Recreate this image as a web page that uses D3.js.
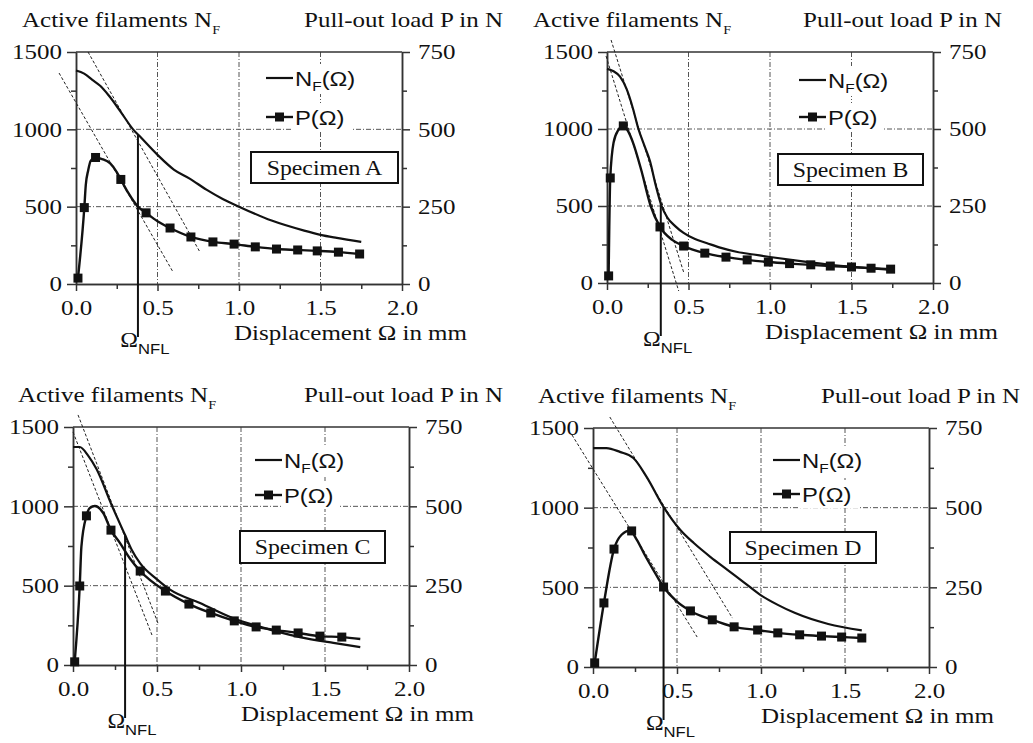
<!DOCTYPE html>
<html>
<head>
<meta charset="utf-8">
<script src="https://cdn.jsdelivr.net/npm/d3@7"></script>
<style>
  body { margin: 0; background: #fff; }
  text { font-family: "Liberation Serif", "Times New Roman", serif; fill: #111; }
  text.sans { font-family: "Liberation Sans", Arial, sans-serif; }
</style>
</head>
<body>
<svg id="chart" width="1033" height="743"></svg>
<script>
// ---- tick values shared by all four panels
const xTicks = [0, 0.5, 1.0, 1.5, 2.0];
const xMinor = [0.25, 0.75, 1.25, 1.75];
const xGrid = [0.5, 1.0, 1.5];
const leftTicks = [0, 500, 1000, 1500];
const leftMinor = [250, 750, 1250];
const leftGrid = [500, 1000];
const rightTicks = [0, 250, 500, 750];
const rightMinor = [125, 375, 625];

// ---- Specimen A  (displacement mm, N_F) / (displacement mm, P in N)
const nfA = [[0, 1380], [0.05, 1360], [0.1, 1320], [0.15, 1280], [0.2, 1220], [0.27, 1120], [0.35, 1000],
  [0.4, 945], [0.5, 835], [0.6, 740], [0.7, 680], [0.8, 610], [0.9, 550], [1.0, 500], [1.2, 410],
  [1.4, 345], [1.5, 318], [1.6, 298], [1.75, 272]];
const pLineA = [[0.012, 19], [0.051, 247], [0.06, 320], [0.075, 368], [0.09, 398], [0.12, 409], [0.16, 404],
  [0.21, 390], [0.25, 362], [0.275, 338], [0.32, 295], [0.38, 250], [0.43, 230], [0.5, 203], [0.577, 181],
  [0.705, 152], [0.84, 136], [0.97, 129], [1.10, 120], [1.23, 113], [1.36, 110], [1.48, 107], [1.61, 103], [1.74, 97]];
const pMarkA = [[0.012, 19], [0.051, 247], [0.12, 409], [0.275, 338], [0.43, 230], [0.577, 181], [0.705, 152],
  [0.84, 136], [0.97, 129], [1.10, 120], [1.23, 113], [1.36, 110], [1.48, 107], [1.61, 103], [1.74, 97]];
const tanA = [[[0.074, 1500], [0.76, 207]], [[-0.104, 1364], [0.595, 78]]];
const nflA = [0.38, 965];

// ---- Specimen B
const nfB = [[0, 1390], [0.04, 1375], [0.08, 1340], [0.12, 1260], [0.16, 1130], [0.19, 1010], [0.23, 890],
  [0.264, 790], [0.3, 630], [0.335, 500], [0.37, 425], [0.42, 368], [0.47, 325], [0.54, 285], [0.61, 260],
  [0.7, 228], [0.8, 201], [0.9, 185], [1.0, 169], [1.2, 140], [1.4, 115], [1.6, 97], [1.75, 85]];
const pLineB = [[0.01, 23], [0.02, 341], [0.04, 455], [0.07, 497], [0.1, 510], [0.13, 492], [0.16, 455],
  [0.21, 367], [0.268, 250], [0.325, 182], [0.4, 140], [0.47, 120], [0.6, 97], [0.73, 84], [0.86, 75],
  [0.99, 68], [1.12, 63], [1.25, 59], [1.37, 55], [1.5, 52], [1.62, 48], [1.74, 45]];
const pMarkB = [[0.01, 23], [0.02, 341], [0.1, 510], [0.325, 182], [0.47, 120], [0.6, 97], [0.73, 84],
  [0.86, 75], [0.99, 68], [1.12, 63], [1.25, 59], [1.37, 55], [1.5, 52], [1.62, 48], [1.74, 45]];
const tanB = [[[0.025, 1578], [0.47, 71]], [[-0.006, 1474], [0.44, -52]]];
const nflB = [0.33, 515];

// ---- Specimen C
const nfC = [[0, 1374], [0.04, 1374], [0.09, 1320], [0.14, 1235], [0.23, 1008], [0.31, 819], [0.35, 725],
  [0.4, 640], [0.5, 540], [0.58, 473], [0.756, 391], [0.95, 296], [1.1, 245], [1.35, 176], [1.55, 139], [1.71, 113]];
const pLineC = [[0.01, 10], [0.04, 249], [0.05, 373], [0.08, 470], [0.1, 495], [0.13, 501], [0.18, 479],
  [0.226, 425], [0.28, 384], [0.34, 335], [0.4, 296], [0.55, 233], [0.69, 192], [0.82, 164], [0.96, 139],
  [1.09, 120], [1.21, 110], [1.34, 101], [1.47, 91], [1.6, 88], [1.71, 82]];
const pMarkC = [[0.01, 10], [0.04, 249], [0.08, 470], [0.226, 425], [0.4, 296], [0.55, 233], [0.69, 192],
  [0.82, 164], [0.96, 139], [1.09, 120], [1.21, 110], [1.34, 101], [1.47, 91], [1.6, 88]];
const tanC = [[[0.03, 1576], [0.51, 252]], [[0, 1469], [0.47, 189]]];
const nflC = [0.31, 819];

// ---- Specimen D
const nfD = [[0, 1374], [0.08, 1374], [0.16, 1350], [0.24, 1312], [0.32, 1192], [0.42, 1004], [0.52, 860],
  [0.6, 778], [0.7, 690], [0.8, 610], [0.9, 530], [1.0, 450], [1.1, 390], [1.2, 340], [1.4, 270], [1.6, 230]];
const pLineD = [[0.01, 13], [0.065, 201], [0.125, 370], [0.17, 415], [0.22, 428], [0.26, 400], [0.31, 350],
  [0.36, 304], [0.42, 251], [0.5, 205], [0.58, 176], [0.71, 148], [0.84, 126], [0.98, 116], [1.10, 107],
  [1.23, 101], [1.36, 97], [1.48, 94], [1.6, 91]];
const pMarkD = [[0.01, 13], [0.065, 201], [0.125, 370], [0.23, 427], [0.42, 251], [0.58, 176], [0.71, 148],
  [0.84, 126], [0.98, 116], [1.10, 107], [1.23, 101], [1.36, 97], [1.48, 94], [1.6, 91]];
const tanD = [[[0.10, 1569], [0.83, 307]], [[-0.125, 1456], [0.62, 188]]];
const nflD = [0.42, 1004];

// layout of each panel (pixels): frame box, title anchors, legend and label box offsets
const panels = [
  { name: 'Specimen A', nf: nfA, pLine: pLineA, pMark: pMarkA, tan: tanA, nfl: nflA,
    left: 76, top: 52, width: 326, height: 232, titleL: 22, titleR: 503,
    legX: 190, legY: [26, 65], box: [175, 100, 147, 31] },
  { name: 'Specimen B', nf: nfB, pLine: pLineB, pMark: pMarkB, tan: tanB, nfl: nflB,
    left: 607, top: 52, width: 326, height: 231, titleL: 533, titleR: 1002,
    legX: 192, legY: [28, 65], box: [171, 102, 145, 31] },
  { name: 'Specimen C', nf: nfC, pLine: pLineC, pMark: pMarkC, tan: tanC, nfl: nflC,
    left: 73, top: 427, width: 336, height: 238, titleL: 18, titleR: 503,
    legX: 182, legY: [33, 68], box: [167, 104, 145, 32] },
  { name: 'Specimen D', nf: nfD, pLine: pLineD, pMark: pMarkD, tan: tanD, nfl: nflD,
    left: 593, top: 428, width: 336, height: 239, titleL: 538, titleR: 1020,
    legX: 180, legY: [32, 66], box: [137, 104, 146, 31] }
];

// the source figure is stretched horizontally, so all text is widened a bit
const SX = 1.19;

const svg = d3.select('#chart');

function label(g, x, y, anchor, size, cls) {
  return g.append('text')
    .attr('transform', `translate(${x},${y}) scale(${SX},1)`)
    .attr('text-anchor', anchor)
    .attr('class', cls || null)
    .style('font-size', size + 'px');
}

function drawPanel(p) {
  const bottom = p.top + p.height, right = p.left + p.width;
  const x = d3.scaleLinear().domain([0, 2]).range([p.left, right]);
  const yL = d3.scaleLinear().domain([0, 1500]).range([bottom, p.top]);
  const yR = d3.scaleLinear().domain([0, 750]).range([bottom, p.top]);
  const g = svg.append('g');

  // grid
  g.selectAll('.gx').data(xGrid).join('line')
    .attr('x1', d => x(d)).attr('x2', d => x(d)).attr('y1', p.top).attr('y2', bottom)
    .attr('stroke', '#555').attr('stroke-width', 1).attr('stroke-dasharray', '5,2,1,2');
  g.selectAll('.gy').data(leftGrid).join('line')
    .attr('x1', p.left).attr('x2', right).attr('y1', d => yL(d)).attr('y2', d => yL(d))
    .attr('stroke', '#555').attr('stroke-width', 1).attr('stroke-dasharray', '5,2,1,2');

  // top frame line
  g.append('line').attr('x1', x(0)).attr('x2', x(2)).attr('y1', yL(1500)).attr('y2', yL(1500))
    .attr('stroke', '#333').attr('stroke-width', 1.5);

  // axes
  const styleAxis = sel => {
    sel.select('.domain').attr('stroke', '#333').attr('stroke-width', 1.5);
    sel.selectAll('.tick line').attr('stroke', '#333').attr('stroke-width', 1.5);
    sel.selectAll('text').style('font-size', '21px').attr('fill', '#111')
      .style('font-family', '"Liberation Serif", serif')
      .attr('transform', `scale(${SX},1)`);
  };
  g.append('g').attr('transform', `translate(0,${bottom})`)
    .call(d3.axisBottom(x).tickValues(xMinor).tickSize(5).tickSizeOuter(0).tickFormat(''))
    .call(styleAxis);
  g.append('g').attr('transform', `translate(0,${bottom})`)
    .call(d3.axisBottom(x).tickValues(xTicks).tickSize(7).tickSizeOuter(0).tickFormat(d3.format('.1f')))
    .call(styleAxis)
    .call(a => a.selectAll('text').attr('y', 31).attr('dy', 0));
  g.append('g').attr('transform', `translate(${p.left},0)`)
    .call(d3.axisLeft(yL).tickValues(leftMinor).tickSize(5).tickSizeOuter(0).tickFormat(''))
    .call(styleAxis);
  g.append('g').attr('transform', `translate(${p.left},0)`)
    .call(d3.axisLeft(yL).tickValues(leftTicks).tickSize(9).tickSizeOuter(0).tickFormat(d3.format('d')))
    .call(styleAxis)
    .call(a => a.selectAll('text').attr('x', -14 / SX));
  g.append('g').attr('transform', `translate(${right},0)`)
    .call(d3.axisRight(yR).tickValues(rightMinor).tickSize(5).tickSizeOuter(0).tickFormat(''))
    .call(styleAxis);
  g.append('g').attr('transform', `translate(${right},0)`)
    .call(d3.axisRight(yR).tickValues(rightTicks).tickSize(8).tickSizeOuter(0).tickFormat(d3.format('d')))
    .call(styleAxis)
    .call(a => a.selectAll('text').attr('x', 16 / SX));

  // tangent lines
  g.selectAll('.tan').data(p.tan).join('line')
    .attr('x1', d => x(d[0][0])).attr('y1', d => yL(d[0][1]))
    .attr('x2', d => x(d[1][0])).attr('y2', d => yL(d[1][1]))
    .attr('stroke', '#222').attr('stroke-width', 1).attr('stroke-dasharray', '3,2');

  // curves
  const nfLine = d3.line().x(d => x(d[0])).y(d => yL(d[1])).curve(d3.curveMonotoneX);
  const pLine = d3.line().x(d => x(d[0])).y(d => yR(d[1])).curve(d3.curveMonotoneX);
  g.append('path').datum(p.nf).attr('d', nfLine)
    .attr('fill', 'none').attr('stroke', '#111').attr('stroke-width', 2.2);
  g.append('path').datum(p.pLine).attr('d', pLine)
    .attr('fill', 'none').attr('stroke', '#111').attr('stroke-width', 2.4);
  g.selectAll('.mk').data(p.pMark).join('rect')
    .attr('x', d => x(d[0]) - 4.5).attr('y', d => yR(d[1]) - 4.5)
    .attr('width', 9).attr('height', 9).attr('fill', '#111');

  // Omega_NFL marker line and label
  const xn = x(p.nfl[0]);
  g.append('line').attr('x1', xn).attr('x2', xn).attr('y1', yL(p.nfl[1])).attr('y2', bottom + 53)
    .attr('stroke', '#111').attr('stroke-width', 2);
  label(g, xn, bottom + 63, 'end', 20).text('Ω');
  label(g, xn, bottom + 70, 'start', 14, 'sans').text('NFL');

  // axis titles
  const tl = label(g, p.titleL, p.top - 25, 'start', 21);
  tl.append('tspan').text('Active filaments N');
  tl.append('tspan').attr('dy', 7).style('font-size', '12px').text('F');
  label(g, p.titleR, p.top - 25, 'end', 21).text('Pull-out load P in N');
  label(g, right + 65, bottom + 56, 'end', 21).text('Displacement Ω in mm');

  // legend
  const lx = p.left + p.legX;
  const ly0 = p.top + p.legY[0], ly1 = p.top + p.legY[1];
  g.append('rect').attr('x', lx + 27).attr('y', ly0 - 14).attr('width', 72).attr('height', 30).attr('fill', '#fff');
  g.append('rect').attr('x', lx + 27).attr('y', ly1 - 14).attr('width', 58).attr('height', 28).attr('fill', '#fff');
  g.append('line').attr('x1', lx).attr('x2', lx + 27).attr('y1', ly0).attr('y2', ly0)
    .attr('stroke', '#111').attr('stroke-width', 2.2);
  g.append('line').attr('x1', lx).attr('x2', lx + 27).attr('y1', ly1).attr('y2', ly1)
    .attr('stroke', '#111').attr('stroke-width', 2.4);
  g.append('rect').attr('x', lx + 9).attr('y', ly1 - 4.5).attr('width', 9).attr('height', 9).attr('fill', '#111');
  const t1 = label(g, lx + 29, ly0 + 8, 'start', 20, 'sans');
  t1.append('tspan').text('N');
  t1.append('tspan').attr('dy', 5).style('font-size', '13px').text('F');
  t1.append('tspan').attr('dy', -5).text('(Ω)');
  label(g, lx + 29, ly1 + 8, 'start', 20, 'sans').text('P(Ω)');

  // specimen label box
  g.append('rect').attr('x', p.left + p.box[0]).attr('y', p.top + p.box[1])
    .attr('width', p.box[2]).attr('height', p.box[3])
    .attr('fill', '#fff').attr('stroke', '#111').attr('stroke-width', 2);
  label(g, p.left + p.box[0] + p.box[2] / 2, p.top + p.box[1] + 23, 'middle', 20).text(p.name);
}

panels.forEach(drawPanel);
</script>
</body>
</html>
